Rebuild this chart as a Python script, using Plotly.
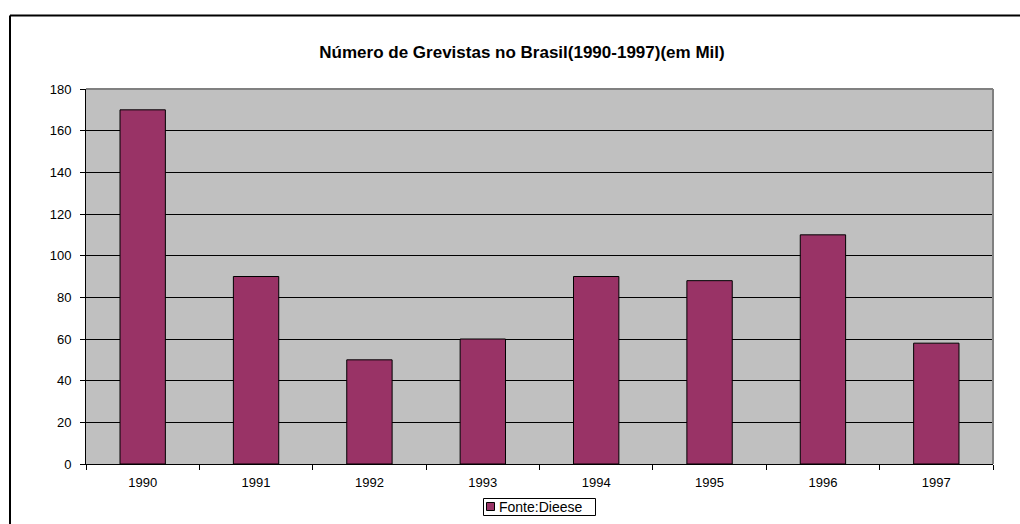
import plotly.graph_objects as go

# Strikers in Brazil, thousands, 1990-1997
anos = ["1990", "1991", "1992", "1993", "1994", "1995", "1996", "1997"]
grevistas = [170, 90, 50, 60, 90, 88, 110, 58]
serie_nome = "Fonte:Dieese"
titulo = "Número de Grevistas no Brasil(1990-1997)(em Mil)"
cor_barra = "#993366"

W, H = 1020, 524
L, R, T, B = 86, 27, 89, 60
pw, ph = W - L - R, H - T - B

def px_x(x):
    return (x - L) / pw

def px_y(y):
    return (H - B - y) / ph

fig = go.Figure()
fig.add_trace(go.Bar(
    x=anos, y=grevistas, name=serie_nome,
    marker=dict(color=cor_barra, line=dict(color="black", width=1)),
    showlegend=False,
))

def pline(x0, y0, x1, y1, color, width):
    return dict(type="line", xref="paper", yref="paper",
                x0=px_x(x0), x1=px_x(x1), y0=px_y(y0), y1=px_y(y1),
                line=dict(color=color, width=width), layer="above")

shapes = [
    # plot area border (top and right edges)
    dict(type="line", xref="paper", yref="paper", x0=0, x1=1, y0=1, y1=1,
         line=dict(color="#808080", width=2), layer="above"),
    dict(type="line", xref="paper", yref="paper", x0=1, x1=1, y0=0, y1=1,
         line=dict(color="#808080", width=2), layer="above"),
    # outer chart frame
    pline(10, 15.5, 1040, 15.5, "black", 2),
    pline(10, 15.5, 10, 540, "black", 2),
    # legend box and key
    dict(type="rect", xref="paper", yref="paper",
         x0=px_x(483.5), x1=px_x(595.5), y0=px_y(498.5), y1=px_y(515.5),
         line=dict(color="black", width=1), fillcolor="white", layer="above"),
    dict(type="rect", xref="paper", yref="paper",
         x0=px_x(486.5), x1=px_x(494.5), y0=px_y(502.5), y1=px_y(510.5),
         line=dict(color="black", width=1), fillcolor=cor_barra, layer="above"),
]

fig.update_layout(
    width=W, height=H,
    margin=dict(l=L, r=R, t=T, b=B, autoexpand=False),
    paper_bgcolor="white",
    plot_bgcolor="#C0C0C0",
    font=dict(family="Liberation Sans, Arial, sans-serif", size=13, color="black"),
    bargap=0.6,
    title=dict(
        text="<b>" + titulo + "</b>",
        font=dict(size=17, color="black"),
        x=522 / W, xanchor="center", xref="container",
        y=1 - 52 / H, yanchor="middle", yref="container",
    ),
    showlegend=False,
    xaxis=dict(
        showline=True, linecolor="black", linewidth=1,
        ticks="outside", tickson="boundaries", ticklen=5, tickcolor="black",
        ticklabelstandoff=6,
        showgrid=False, fixedrange=True,
    ),
    yaxis=dict(
        range=[0, 180], dtick=20,
        showline=True, linecolor="black", linewidth=1,
        ticks="outside", ticklen=5, tickcolor="black",
        ticklabelstandoff=6,
        showgrid=True, gridcolor="black", gridwidth=1,
        zeroline=False, fixedrange=True,
    ),
    shapes=shapes,
    annotations=[
        dict(text=serie_nome, xref="paper", yref="paper",
             x=px_x(497), y=px_y(507), xanchor="left", yanchor="middle",
             showarrow=False, font=dict(size=14, color="black")),
    ],
)

fig.write_html("out.html")
